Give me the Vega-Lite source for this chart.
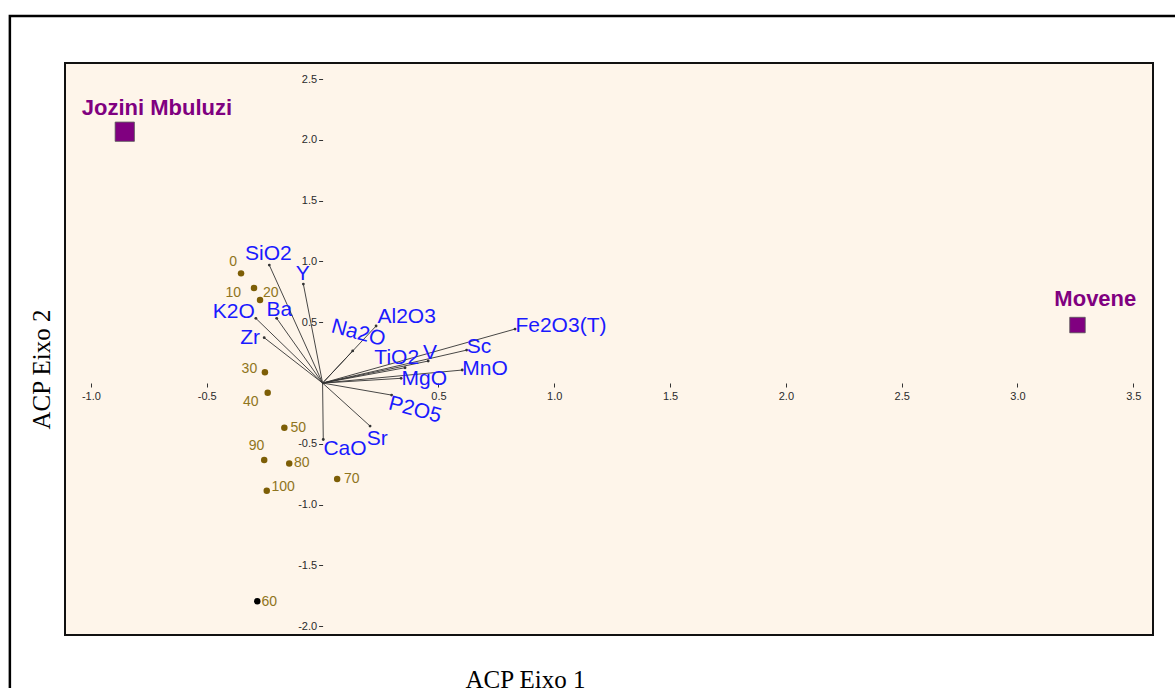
{
  "$schema": "https://vega.github.io/schema/vega-lite/v6.json",
  "width": 1088,
  "height": 572,
  "autosize": {"type": "none"},
  "padding": {"left": 65, "top": 63, "right": 22, "bottom": 53},
  "background": "white",
  "config": {
    "view": {"stroke": "#111111", "strokeWidth": 2, "fill": "#FEF5EA"},
    "font": "Liberation Sans"
  },
  "datasets": {
    "vars": [
      {"var": "SiO2", "ex": -0.230, "ey": 0.970, "lx": -0.234, "ly": 1.061},
      {"var": "Y", "ex": -0.083, "ey": 0.814, "lx": -0.086, "ly": 0.896},
      {"var": "Ba", "ex": -0.198, "ey": 0.532, "lx": -0.187, "ly": 0.600},
      {"var": "K2O", "ex": -0.288, "ey": 0.532, "lx": -0.383, "ly": 0.586},
      {"var": "Zr", "ex": -0.252, "ey": 0.373, "lx": -0.313, "ly": 0.368},
      {"var": "Al2O3", "ex": 0.231, "ey": 0.469, "lx": 0.363, "ly": 0.545},
      {"var": "Na2O", "ex": 0.130, "ey": 0.264, "lx": 0.154, "ly": 0.409},
      {"var": "TiO2", "ex": 0.356, "ey": 0.126, "lx": 0.320, "ly": 0.203},
      {"var": "V", "ex": 0.456, "ey": 0.181, "lx": 0.464, "ly": 0.244},
      {"var": "Sc", "ex": 0.622, "ey": 0.271, "lx": 0.675, "ly": 0.294},
      {"var": "Fe2O3(T)", "ex": 0.831, "ey": 0.444, "lx": 1.029, "ly": 0.469},
      {"var": "MnO", "ex": 0.603, "ey": 0.107, "lx": 0.701, "ly": 0.113},
      {"var": "MgO", "ex": 0.339, "ey": 0.039, "lx": 0.439, "ly": 0.030},
      {"var": "P2O5", "ex": 0.298, "ey": -0.099, "lx": 0.399, "ly": -0.222},
      {"var": "Sr", "ex": 0.205, "ey": -0.354, "lx": 0.236, "ly": -0.461},
      {"var": "CaO", "ex": 0.003, "ey": -0.464, "lx": 0.097, "ly": -0.543}
    ],
    "samples": [
      {"sample": "0", "x": -0.352, "y": 0.902, "lx": -0.386, "ly": 0.998},
      {"sample": "10", "x": -0.296, "y": 0.781, "lx": -0.386, "ly": 0.738},
      {"sample": "20", "x": -0.270, "y": 0.683, "lx": -0.224, "ly": 0.738},
      {"sample": "30", "x": -0.249, "y": 0.088, "lx": -0.316, "ly": 0.113},
      {"sample": "40", "x": -0.237, "y": -0.080, "lx": -0.310, "ly": -0.154},
      {"sample": "50", "x": -0.165, "y": -0.367, "lx": -0.105, "ly": -0.368},
      {"sample": "60", "x": -0.282, "y": -1.795, "lx": -0.230, "ly": -1.803},
      {"sample": "70", "x": 0.063, "y": -0.789, "lx": 0.126, "ly": -0.789},
      {"sample": "80", "x": -0.144, "y": -0.661, "lx": -0.090, "ly": -0.660},
      {"sample": "90", "x": -0.252, "y": -0.633, "lx": -0.285, "ly": -0.518},
      {"sample": "100", "x": -0.241, "y": -0.885, "lx": -0.170, "ly": -0.858}
    ],
    "sites": [
      {"site": "Jozini Mbuluzi", "x": -0.854, "y": 2.067, "lx": -0.715, "ly": 2.262},
      {"site": "Movene", "x": 3.259, "y": 0.477, "lx": 3.336, "ly": 0.693}
    ],
    "frame": [
      {"fx": -1.35, "fx2": 3.9, "fy": 3.018, "fy2": -2.7}
    ]
  },
  "layer": [
    {
      "mark": {"type": "rule", "color": "black", "strokeWidth": 1.4},
      "encoding": {
        "x": {"datum": -1.0, "type": "quantitative"},
        "x2": {"datum": 3.585},
        "y": {"datum": 0, "type": "quantitative"}
      }
    },
    {
      "mark": {"type": "rule", "color": "black", "strokeWidth": 1.4},
      "encoding": {
        "x": {"datum": 0, "type": "quantitative"},
        "y": {"datum": -2.0, "type": "quantitative"},
        "y2": {"datum": 2.632}
      }
    },
    {
      "data": {"name": "vars"},
      "mark": {"type": "rule", "color": "#333333", "strokeWidth": 0.9},
      "encoding": {
        "x": {
          "field": "ex", "type": "quantitative",
          "scale": {"domain": [-1.112, 3.585], "nice": false, "zero": false, "clamp": false},
          "axis": {
            "orient": "bottom", "offset": -252, "domain": false, "grid": false,
            "values": [-1.0, -0.5, 0.5, 1.0, 1.5, 2.0, 2.5, 3.0, 3.5],
            "format": ".1f", "labelExpr": "replace(datum.label, '\u2212', '-')",
            "tickSize": 4, "tickColor": "#333333", "tickWidth": 1,
            "labelFont": "Liberation Sans", "labelFontSize": 11, "labelColor": "#2a2a2a", "labelPadding": 3,
            "title": "ACP Eixo 1", "titleFont": "Liberation Serif", "titleFontSize": 25,
            "titleFontWeight": "normal", "titleColor": "black",
            "titleX": 460, "titleY": 304, "titleAlign": "center", "titleBaseline": "alphabetic"
          }
        },
        "y": {
          "field": "ey", "type": "quantitative",
          "scale": {"domain": [-2.072, 2.632], "nice": false, "zero": false, "clamp": false},
          "axis": {
            "orient": "left", "offset": -257.6, "domain": false, "grid": false,
            "values": [-2.0, -1.5, -1.0, -0.5, 0.5, 1.0, 1.5, 2.0, 2.5],
            "format": ".1f", "labelExpr": "replace(datum.label, '\u2212', '-')",
            "tickSize": 4, "tickColor": "#333333", "tickWidth": 1,
            "labelFont": "Liberation Sans", "labelFontSize": 11, "labelColor": "#2a2a2a", "labelPadding": 2,
            "title": "ACP Eixo 2", "titleFont": "Liberation Serif", "titleFontSize": 25,
            "titleFontWeight": "normal", "titleColor": "black", "titleAngle": 270,
            "titleX": -281.6, "titleY": 306, "titleAlign": "center", "titleBaseline": "middle"
          }
        },
        "x2": {"datum": 0},
        "y2": {"datum": 0}
      }
    },
    {
      "data": {"name": "vars"},
      "mark": {"type": "point", "filled": true, "size": 8, "color": "#333333", "opacity": 1},
      "encoding": {
        "x": {"field": "ex", "type": "quantitative"},
        "y": {"field": "ey", "type": "quantitative"}
      }
    },
    {
      "data": {"name": "samples"},
      "mark": {"type": "circle", "size": 42, "opacity": 1},
      "encoding": {
        "x": {"field": "x", "type": "quantitative"},
        "y": {"field": "y", "type": "quantitative"},
        "color": {"condition": {"test": "datum.sample === '60'", "value": "black"}, "value": "#7d5e06"}
      }
    },
    {
      "data": {"name": "samples"},
      "mark": {"type": "text", "fontSize": 14, "color": "#8f7420", "align": "center", "baseline": "middle", "font": "Liberation Sans"},
      "encoding": {
        "x": {"field": "lx", "type": "quantitative"},
        "y": {"field": "ly", "type": "quantitative"},
        "text": {"field": "sample"}
      }
    },
    {
      "data": {"name": "vars"},
      "transform": [{"filter": {"not": {"field": "var", "oneOf": ["Na2O", "P2O5"]}}}],
      "mark": {"type": "text", "fontSize": 21, "color": "#1a1aff", "align": "center", "baseline": "middle", "font": "Liberation Sans"},
      "encoding": {
        "x": {"field": "lx", "type": "quantitative"},
        "y": {"field": "ly", "type": "quantitative"},
        "text": {"field": "var"}
      }
    },
    {
      "data": {"name": "vars"},
      "transform": [{"filter": {"field": "var", "oneOf": ["Na2O", "P2O5"]}}],
      "mark": {"type": "text", "fontSize": 21, "color": "#1a1aff", "align": "center", "baseline": "middle", "angle": 15, "font": "Liberation Sans"},
      "encoding": {
        "x": {"field": "lx", "type": "quantitative"},
        "y": {"field": "ly", "type": "quantitative"},
        "text": {"field": "var"}
      }
    },
    {
      "data": {"name": "sites"},
      "mark": {"type": "square", "filled": true, "color": "#800080", "stroke": "#555555", "strokeWidth": 0.8, "opacity": 1},
      "encoding": {
        "x": {"field": "x", "type": "quantitative"},
        "y": {"field": "y", "type": "quantitative"},
        "size": {"condition": {"test": "datum.site === 'Movene'", "value": 240}, "value": 370}
      }
    },
    {
      "data": {"name": "sites"},
      "mark": {"type": "text", "fontSize": 22, "fontWeight": "bold", "color": "#800080", "align": "center", "baseline": "middle", "font": "Liberation Sans"},
      "encoding": {
        "x": {"field": "lx", "type": "quantitative"},
        "y": {"field": "ly", "type": "quantitative"},
        "text": {"field": "site"}
      }
    },
    {
      "data": {"name": "frame"},
      "mark": {"type": "rect", "fill": null, "fillOpacity": 0, "stroke": "black", "strokeWidth": 2.5, "clip": false},
      "encoding": {
        "x": {"field": "fx", "type": "quantitative"},
        "x2": {"field": "fx2"},
        "y": {"field": "fy", "type": "quantitative"},
        "y2": {"field": "fy2"}
      }
    }
  ]
}
